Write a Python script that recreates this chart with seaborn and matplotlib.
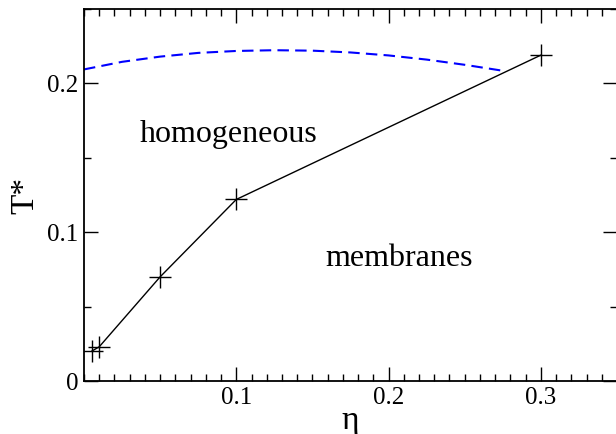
import numpy as np
import pandas as pd
import seaborn as sns
import matplotlib
matplotlib.use("Agg")
import matplotlib.pyplot as plt
from matplotlib.ticker import MultipleLocator, FixedLocator, FixedFormatter

# Transition line between homogeneous and membrane phases
eta = [0.005, 0.01, 0.05, 0.1, 0.3]
t_star = [0.020, 0.023, 0.070, 0.122, 0.219]

# Upper (dashed) boundary
eta_upper = [0.0, 0.025, 0.05, 0.075, 0.1, 0.125, 0.15, 0.175, 0.2, 0.225, 0.25, 0.275]
t_upper = [0.2094, 0.2145, 0.2180, 0.2205, 0.2218, 0.2223, 0.2220, 0.2208, 0.2188, 0.2160, 0.2125, 0.2085]

x_ticks = [0.1, 0.2, 0.3]
x_tick_labels = ["0.1", "0.2", "0.3"]
y_ticks = [0.0, 0.1, 0.2]
y_tick_labels = ["0", "0.1", "0.2"]

sns.set_style("ticks")
plt.rcParams["font.family"] = ["Liberation Serif", "DejaVu Serif"]
plt.rcParams["text.color"] = "black"
plt.rcParams["axes.labelcolor"] = "black"
plt.rcParams["xtick.color"] = "black"
plt.rcParams["ytick.color"] = "black"

fig = plt.figure(figsize=(6.16, 4.34), dpi=100)
ax = fig.add_axes([84 / 616, 53 / 434, 533 / 616, 372 / 434])

df_main = pd.DataFrame({"eta": eta, "T": t_star})
df_upper = pd.DataFrame({"eta": eta_upper, "T": t_upper})

sns.lineplot(data=df_upper, x="eta", y="T", ax=ax, color="#0000ff",
             linewidth=1.5, linestyle=(0, (5.5, 3)), sort=False)
sns.lineplot(data=df_main, x="eta", y="T", ax=ax, color="black",
             linewidth=1.0, marker="+", markersize=16, markeredgewidth=1.0,
             markeredgecolor="black", sort=False)

ax.set_xlim(0, 0.35)
ax.set_ylim(0, 0.25)

ax.xaxis.set_major_locator(FixedLocator(x_ticks))
ax.xaxis.set_major_formatter(FixedFormatter(x_tick_labels))
ax.xaxis.set_minor_locator(MultipleLocator(0.01))
ax.yaxis.set_major_locator(FixedLocator(y_ticks))
ax.yaxis.set_major_formatter(FixedFormatter(y_tick_labels))
ax.yaxis.set_minor_locator(MultipleLocator(0.05))

ax.tick_params(which="both", direction="in", top=True, right=True,
               color="black", labelcolor="black", width=1.0)
ax.tick_params(which="major", length=10, labelsize=18, pad=4)
ax.tick_params(which="minor", length=5)

for s in ax.spines.values():
    s.set_linewidth(1.3)
    s.set_color("black")

ax.set_xlabel("η", fontsize=24, labelpad=-2, color="black")
ax.set_ylabel("T*", fontsize=24, labelpad=5, color="black")

ax.text(140, 434 - 142, "homogeneous", transform=None, fontsize=23,
        ha="left", va="baseline", color="black")
ax.text(325, 434 - 266, "membranes", transform=None, fontsize=23,
        ha="left", va="baseline", color="black")

fig.savefig("out.png", dpi=100)
